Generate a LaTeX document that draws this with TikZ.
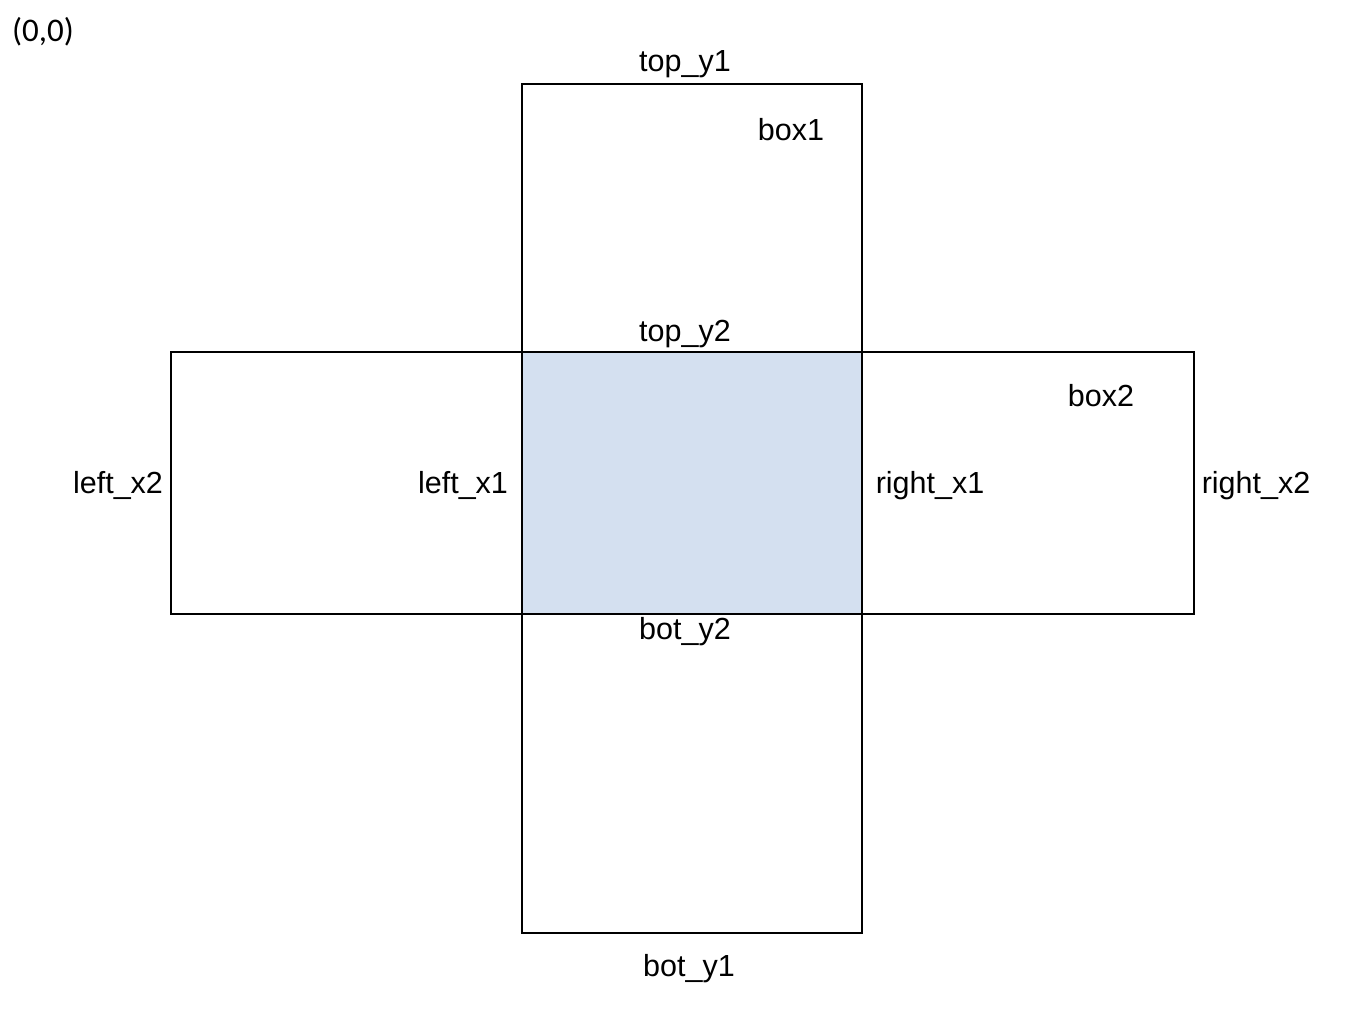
\documentclass[tikz,border=0pt]{standalone}
\usepackage{fontspec}
\setmainfont{Liberation Sans}
\newfontfamily\calfont{Carlito}
\definecolor{overlap}{RGB}{212,224,240}
\begin{document}
\begin{tikzpicture}[x=1pt,y=-1pt,
  lbl/.style={inner sep=0pt,font=\fontsize{30.5}{36}\selectfont,text height=0.72em,text depth=0.21em,anchor=center},
  boxline/.style={draw=black,line width=1.3pt}]
\useasboundingbox (0,0) rectangle (1352,1012);
\fill[white] (0,0) rectangle (1352,1012);
% overlap region
\fill[overlap] (522,352) rectangle (862,614);
% boxes
\draw[boxline] (522,84) rectangle (862,933);
\draw[boxline] (171,352) rectangle (1194,614);
% labels
\node[lbl,font=\calfont\fontsize{33}{38}\selectfont] (origin) at (43,39) {(0,0)};
\node[lbl] (topy1) at (685,69) {top\_y1};
\node[lbl] (box1) at (791,138) {box1};
\node[lbl] (topy2) at (685,339) {top\_y2};
\node[lbl] (box2) at (1101,404) {box2};
\node[lbl] (leftx2) at (118,491) {left\_x2};
\node[lbl] (leftx1) at (463,491) {left\_x1};
\node[lbl] (rightx1) at (930,491) {right\_x1};
\node[lbl] (rightx2) at (1256,491) {right\_x2};
\node[lbl] (boty2) at (685,637) {bot\_y2};
\node[lbl] (boty1) at (689,974) {bot\_y1};
\end{tikzpicture}
\end{document}
